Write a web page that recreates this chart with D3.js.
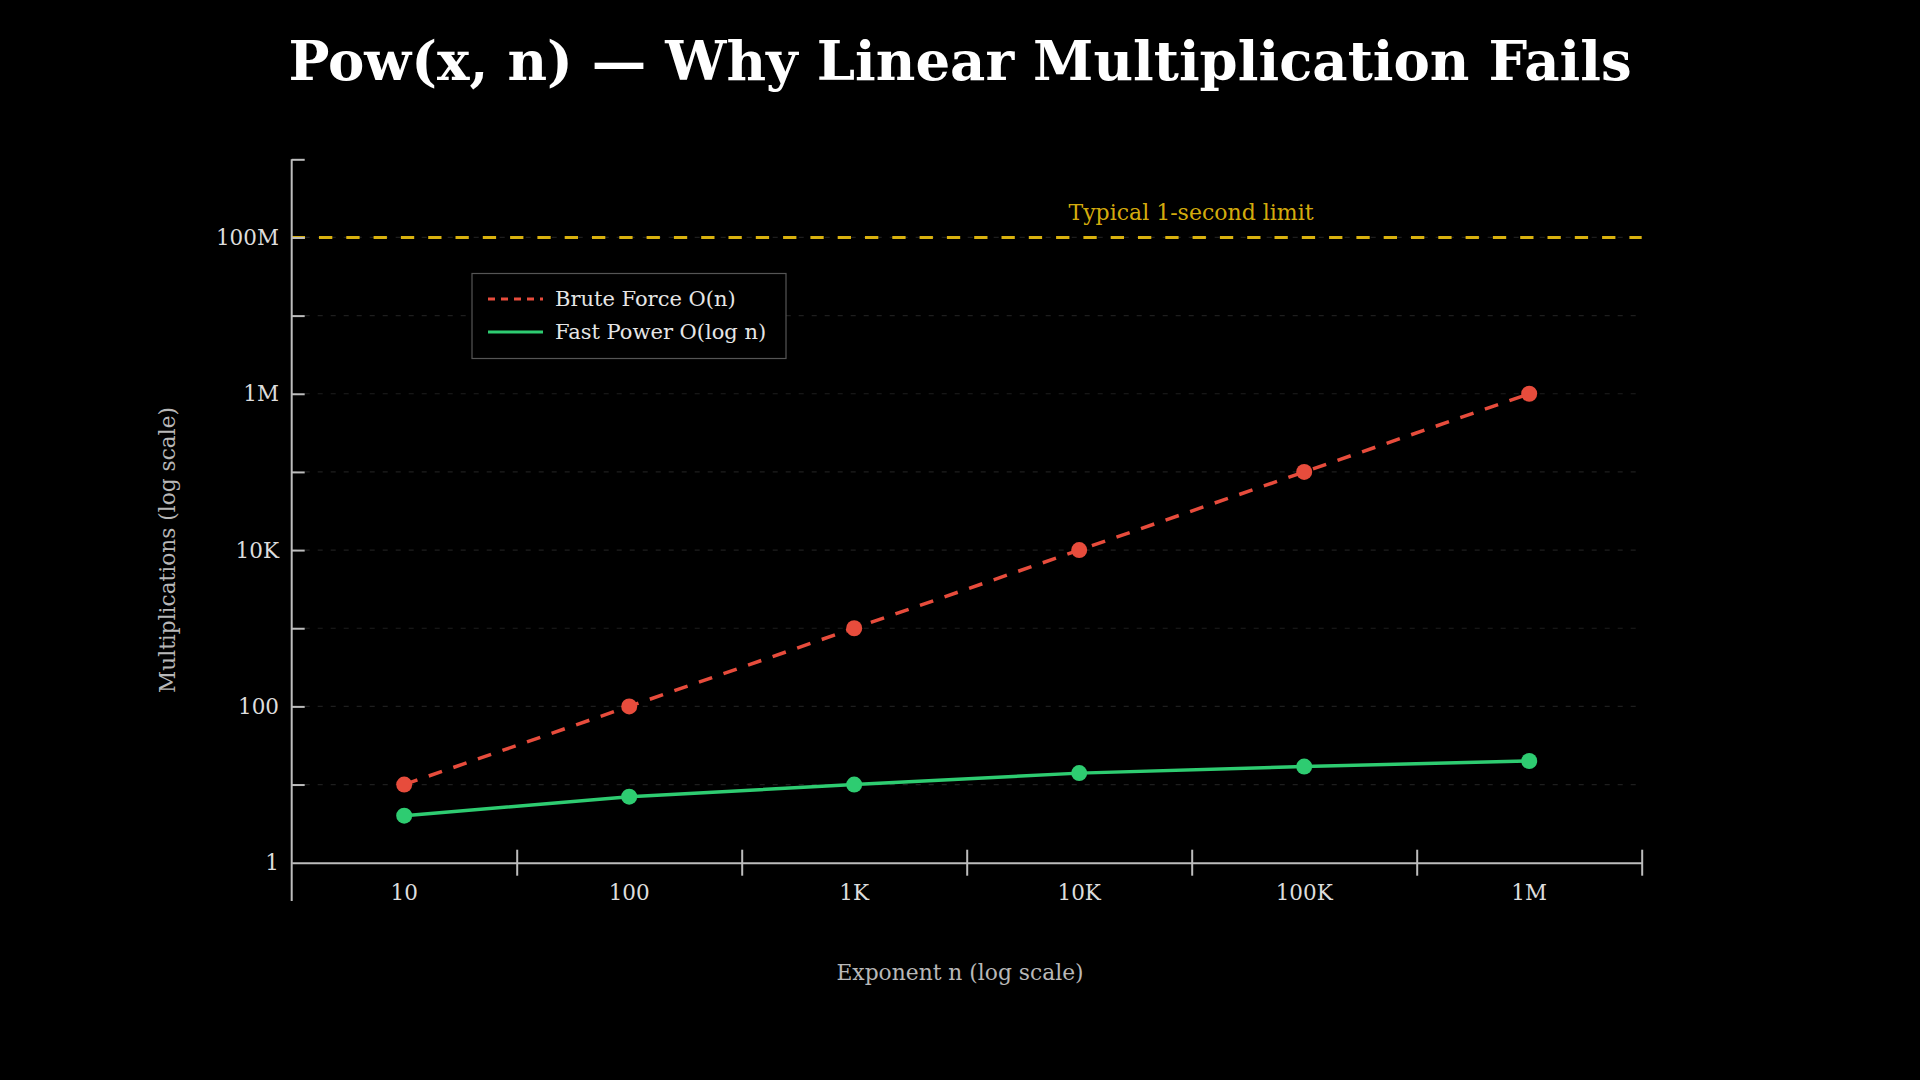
<!DOCTYPE html>
<html>
<head>
<meta charset="utf-8">
<script src="https://cdn.jsdelivr.net/npm/d3@7"></script>
<style>
  html, body { margin: 0; padding: 0; background: #000; }
  svg { display: block; }
  text { font-family: "DejaVu Serif", serif; }
</style>
</head>
<body>
<svg id="chart" width="1920" height="1080"></svg>
<script>
// ---- data ----
const exponents = [10, 100, 1000, 10000, 100000, 1000000];
const xTickLabels = ["10", "100", "1K", "10K", "100K", "1M"];
const bruteForce = [10, 100, 1000, 10000, 100000, 1000000];
const fastPower = [4, 7, 10, 14, 17, 20];
const yTickValues = [1, 10, 100, 1e3, 1e4, 1e5, 1e6, 1e7, 1e8, 1e9];
const yTickLabels = ["1", "", "100", "", "10K", "", "1M", "", "100M", ""];
const limitValue = 1e8;
const limitLabel = "Typical 1-second limit";
const seriesNames = ["Brute Force O(n)", "Fast Power O(log n)"];

(function () {
const svg = d3.select("#chart");
const W = 1920;
const pLeft = 291.7, pRight = 1641.7, pTop = 159.3, pBottom = 862.7;

const x = d3.scaleLog().domain([Math.pow(10, 0.5), Math.pow(10, 6.5)]).range([pLeft, pRight]);
const y = d3.scaleLog().domain([1, 1e9]).range([pBottom, pTop]);

const axisColor = "#bdbdbd";
const red = "#e74c3c", green = "#2ecc71", yellow = "#f1c40f";

// title
svg.append("text")
  .attr("x", W / 2).attr("y", 80)
  .attr("text-anchor", "middle")
  .attr("fill", "#ffffff")
  .attr("font-weight", "bold")
  .attr("font-size", 54.5)
  .text("Pow(x, n) \u2014 Why Linear Multiplication Fails");

// gridlines
svg.append("g").selectAll("line")
  .data(yTickValues.slice(1, -1))
  .join("line")
  .attr("x1", pLeft).attr("x2", pRight)
  .attr("y1", d => y(d)).attr("y2", d => y(d))
  .attr("stroke", "#1e1e1e").attr("stroke-width", 1.2)
  .attr("stroke-dasharray", "5,8");

// limit line
svg.append("line")
  .attr("x1", pLeft).attr("x2", pRight)
  .attr("y1", y(limitValue)).attr("y2", y(limitValue))
  .attr("stroke", yellow).attr("stroke-opacity", 0.9)
  .attr("stroke-width", 3).attr("stroke-dasharray", "13.3,14");
svg.append("text")
  .attr("x", 1191).attr("y", 220)
  .attr("text-anchor", "middle")
  .attr("fill", yellow).attr("fill-opacity", 0.9)
  .attr("font-size", 22)
  .text(limitLabel);

// x axis
const xTickPos = exponents.map(d => d * Math.sqrt(10));
const xAxis = d3.axisBottom(x).tickValues(xTickPos).tickSize(13).tickFormat("").tickSizeOuter(0);
const gx = svg.append("g").attr("transform", `translate(0,${pBottom})`).call(xAxis);
gx.select(".domain").attr("stroke", axisColor).attr("stroke-width", 2);
gx.selectAll(".tick line").attr("stroke", axisColor).attr("stroke-width", 2).attr("y1", -13);

svg.append("g").selectAll("text")
  .data(exponents)
  .join("text")
  .attr("x", d => x(d)).attr("y", 900)
  .attr("text-anchor", "middle")
  .attr("fill", "#dddddd").attr("font-size", 21.5)
  .text((d, i) => xTickLabels[i]);

// y axis
svg.append("line")
  .attr("x1", pLeft).attr("x2", pLeft)
  .attr("y1", pTop).attr("y2", 901)
  .attr("stroke", axisColor).attr("stroke-width", 2);
const yAxis = d3.axisLeft(y).tickValues(yTickValues.slice(1)).tickSize(13).tickFormat("").tickSizeOuter(0);
const gy = svg.append("g").attr("transform", `translate(${pLeft},0)`).call(yAxis);
gy.select(".domain").remove();
gy.selectAll(".tick line").attr("stroke", axisColor).attr("stroke-width", 2).attr("x2", 13);

svg.append("g").selectAll("text")
  .data(yTickValues)
  .join("text")
  .attr("x", 279).attr("y", d => y(d) + 7.5)
  .attr("text-anchor", "end")
  .attr("fill", "#dddddd").attr("font-size", 21.5)
  .text((d, i) => yTickLabels[i]);

// axis titles
svg.append("text")
  .attr("x", 960).attr("y", 980)
  .attr("text-anchor", "middle")
  .attr("fill", "#b8b8b8").attr("font-size", 21.8)
  .text("Exponent n (log scale)");
svg.append("text")
  .attr("transform", "translate(175,550) rotate(-90)")
  .attr("text-anchor", "middle")
  .attr("fill", "#b8b8b8").attr("font-size", 21.7)
  .text("Multiplications (log scale)");

// series
const line = d3.line().x(d => x(d[0])).y(d => y(d[1]));
const bfData = exponents.map((e, i) => [e, bruteForce[i]]);
const fpData = exponents.map((e, i) => [e, fastPower[i]]);

svg.append("path").datum(bfData)
  .attr("d", line).attr("fill", "none")
  .attr("stroke", red).attr("stroke-width", 3.5)
  .attr("stroke-dasharray", "14,12");
svg.append("g").selectAll("circle").data(bfData).join("circle")
  .attr("cx", d => x(d[0])).attr("cy", d => y(d[1])).attr("r", 8)
  .attr("fill", red);

svg.append("path").datum(fpData)
  .attr("d", line).attr("fill", "none")
  .attr("stroke", green).attr("stroke-width", 3.5);
svg.append("g").selectAll("circle").data(fpData).join("circle")
  .attr("cx", d => x(d[0])).attr("cy", d => y(d[1])).attr("r", 8)
  .attr("fill", green);

// legend
const lg = svg.append("g");
lg.append("rect")
  .attr("x", 472).attr("y", 273.5).attr("width", 314).attr("height", 85)
  .attr("fill", "#000").attr("stroke", "#555").attr("stroke-width", 1.2);
const legendItems = [
  { name: seriesNames[0], color: red, dash: "7,6", yy: 299 },
  { name: seriesNames[1], color: green, dash: null, yy: 332 }
];
legendItems.forEach(it => {
  lg.append("line")
    .attr("x1", 488).attr("x2", 543)
    .attr("y1", it.yy).attr("y2", it.yy)
    .attr("stroke", it.color).attr("stroke-width", 3)
    .attr("stroke-dasharray", it.dash);
  lg.append("text")
    .attr("x", 555).attr("y", it.yy + 7)
    .attr("fill", "#e6e6e6").attr("font-size", 21)
    .text(it.name);
});
})();
</script>
</body>
</html>
